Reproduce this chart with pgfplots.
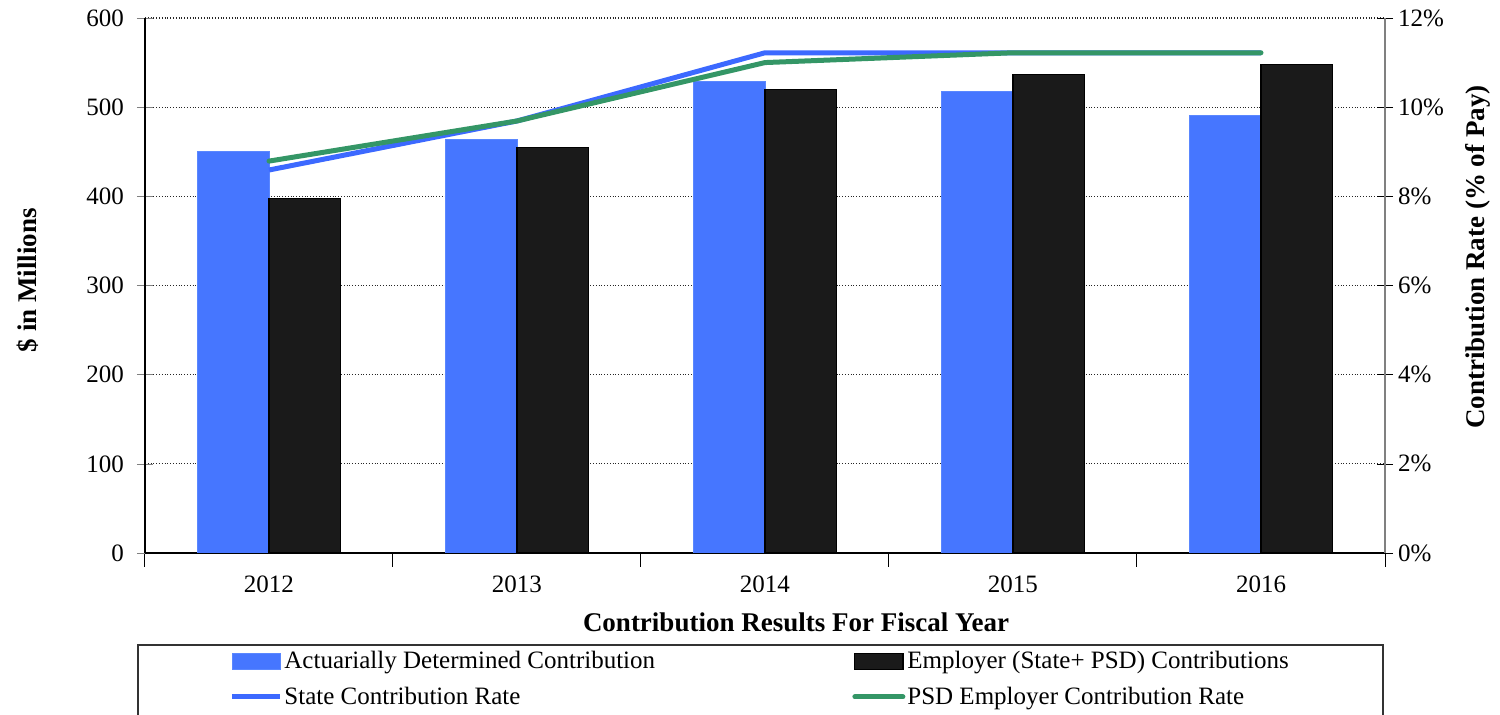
\documentclass[border=0pt]{standalone}
\usepackage{fontspec}
\setmainfont{Liberation Serif}
\usepackage{pgfplots}
\pgfplotsset{compat=1.18}

\definecolor{adcblue}{RGB}{70,118,255}
\definecolor{adcedge}{RGB}{90,135,255}
\definecolor{empblack}{RGB}{26,26,26}
\definecolor{stateblue}{RGB}{60,105,255}
\definecolor{psdgreen}{RGB}{52,150,102}

\begin{document}
\begin{tikzpicture}
\pgfplotsset{
  every axis/.append style={
    width=620pt, height=267.5pt, scale only axis,
    xmin=-0.5, xmax=4.5,
    tick align=center,
    /pgf/number format/assume math mode=true,
    tick label style={font=\fontsize{12.5}{14}\selectfont},
    label style={font=\fontsize{13.5}{15}\selectfont\bfseries},
  }
}
% left axis: the two bar series
\begin{axis}[
  ybar=0pt, bar width=35.75pt,
  ymin=0, ymax=600, ytick={0,100,...,600},
  xtick={0,...,4}, xticklabels={2012,2013,2014,2015,2016},
  minor xtick={-0.5,0.5,...,4.5},
  major x tick style={draw=none},
  minor x tick style={black, line width=0.5pt},
  minor tick length=7pt, major tick length=8pt,
  axis x line*=bottom, axis y line*=left,
  axis line style={black, line width=0.6pt},
  ymajorgrids, major grid style={densely dotted, black!85, line width=0.55pt},
  xticklabel style={yshift=0pt},
  yticklabel style={xshift=-3pt},
  xlabel={Contribution Results For Fiscal Year},
  xlabel style={at={(axis description cs:0.525,0)}, anchor=center, yshift=-34.5pt},
  ylabel={\$ in Millions},
  ylabel style={at={(axis description cs:-0.0944,0.51)}, anchor=center, rotate=0},
]
\addplot[fill=adcblue, draw=adcedge] coordinates {(0,450) (1,464) (2,529) (3,518) (4,491)};
\addplot[fill=empblack, draw=black, line width=0.6pt] coordinates {(0,398) (1,455) (2,520) (3,537) (4,548)};
\end{axis}
% right axis: the two contribution rates
\begin{axis}[
  axis x line=none, axis y line*=right,
  axis line style={gray, line width=0.6pt},
  ytick style={black},
  major tick length=8pt,
  ymin=0, ymax=12, ytick={0,2,...,12},
  yticklabel={\pgfmathprintnumber{\tick}\%},
  yticklabel style={xshift=-1pt},
  ylabel={Contribution Rate (\% of Pay)},
  ylabel style={at={(axis description cs:1.075,0.553)}, anchor=center, rotate=0},
  legend columns=2,
  legend style={at={(axis description cs:0,0)}, anchor=north west, xshift=42pt, yshift=-47pt,
    draw=none, fill=none, inner sep=0pt, row sep=3.5pt,
    font=\fontsize{12.5}{14}\selectfont,
    nodes={inner xsep=1pt},
    cells={anchor=west},
    /tikz/every even column/.append style={column sep=2pt}},
  legend image code/.code={\draw[#1] (0pt,0pt) -- (24pt,0pt);},
]
\addlegendimage{legend image code/.code={\draw[fill=adcblue,draw=adcedge] (0pt,-4pt) rectangle (24pt,4pt);}}
\addlegendentry{\makebox[281pt][l]{Actuarially Determined Contribution}}
\addlegendimage{legend image code/.code={\draw[fill=empblack,draw=black,line width=0.6pt] (0pt,-4pt) rectangle (24pt,4pt);}}
\addlegendentry{Employer (State+ PSD) Contributions}
\addplot[stateblue, line width=2.5pt] coordinates {(0,8.59) (1,9.69) (2,11.22) (3,11.22) (4,11.22)};
\addlegendentry{\makebox[281pt][l]{State Contribution Rate}}
\addplot[psdgreen, line width=2.5pt, line cap=round] coordinates {(0,8.79) (1,9.69) (2,11.0) (3,11.22) (4,11.22)};
\addlegendentry{PSD Employer Contribution Rate}
\end{axis}
\draw[black!80, line width=0.6pt] (-3.5pt,-46pt) rectangle (619pt,-95pt);
\pgfresetboundingbox
\useasboundingbox (-72.5pt,-81pt) rectangle (677.5pt,276.5pt);
\end{tikzpicture}
\end{document}
